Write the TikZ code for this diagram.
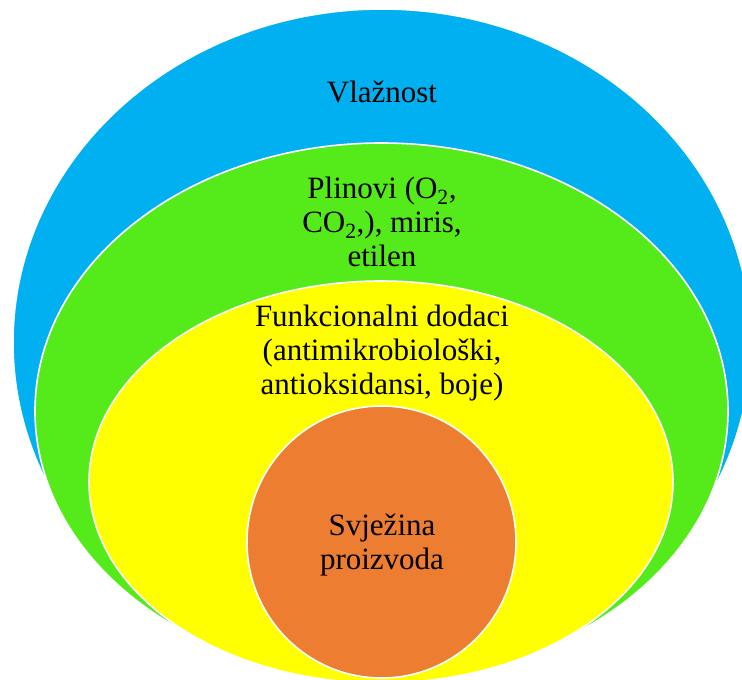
\documentclass[tikz,border=0pt]{standalone}
\usepackage{fontspec}
\setmainfont{Liberation Serif}
\newfontfamily\tnr{Liberation Serif}
\definecolor{cblue}{HTML}{00B0F0}
\definecolor{cgreen}{HTML}{55EB1B}
\definecolor{cyellow}{HTML}{FFFF00}
\definecolor{corange}{HTML}{ED7D31}
\begin{document}
\begin{tikzpicture}[x=1pt,y=-1pt,
  layer/.style={draw=white, line width=1.6pt},
  lbl/.style={align=center, font=\tnr\fontsize{31}{34}\selectfont, text=black, inner sep=0pt}]
\useasboundingbox (0,0) rectangle (742,680);
\begin{scope}
\clip (0,0) rectangle (742,680);
\filldraw[layer, fill=cblue]   (382,342.6) ellipse [x radius=369pt, y radius=333.6pt];
\filldraw[layer, fill=cgreen]  (381.5,411) ellipse [x radius=346.5pt, y radius=268pt];
\filldraw[layer, fill=cyellow] (381,482) ellipse [x radius=292pt, y radius=201pt];
\filldraw[layer, fill=corange] (381.5,542) ellipse [x radius=134.5pt, y radius=136pt];
\end{scope}
\node[lbl] (vlaz) at (382,92) {Vlažnost};
\node[lbl] (plin) at (382,222) {Plinovi (O\textsubscript{2},\\CO\textsubscript{2},), miris,\\etilen};
\node[lbl] (funk) at (382,353) {Funkcionalni dodaci\\(antimikrobiološki,\\antioksidansi, boje)};
\node[lbl] (svje) at (382,545) {Svježina\\proizvoda};
\end{tikzpicture}
\end{document}
